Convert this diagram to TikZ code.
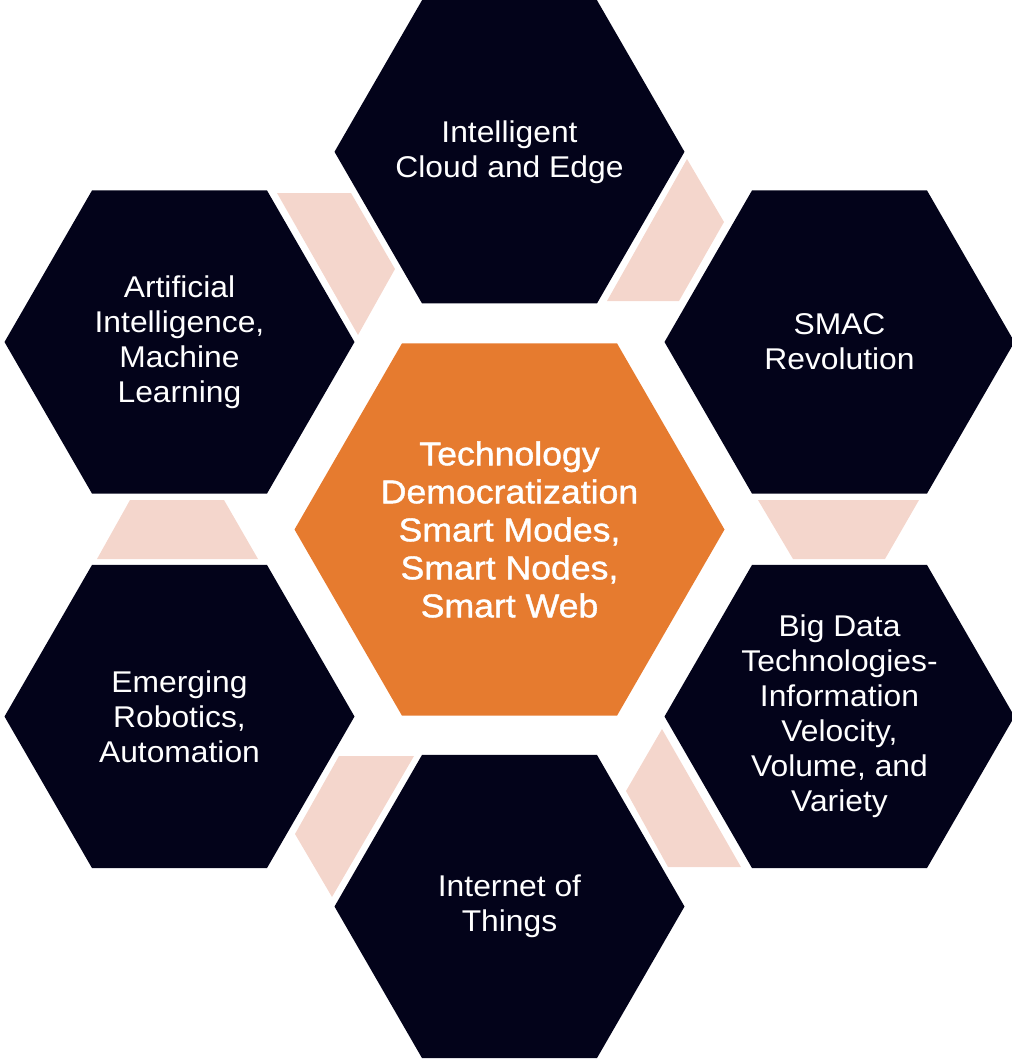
\documentclass[tikz,border=0pt]{standalone}
\usepackage{fontspec}
\setmainfont[FakeStretch=1.06]{Liberation Sans}
\newfontfamily\centerfont[FakeBold=1.2,FakeStretch=1.08]{Liberation Sans}
\definecolor{hexdark}{HTML}{03031A}
\definecolor{hexorange}{HTML}{E67B2F}
\definecolor{linkpink}{HTML}{F4D6CC}
\tikzset{
  outertext/.style={text=white, align=center, inner sep=0pt, font=\fontsize{30}{35}\selectfont},
  centertext/.style={text=white, align=center, inner sep=0pt, font=\centerfont\fontsize{33}{38}\selectfont},
  link/.style={fill=linkpink, draw=none}
}
\newcommand{\hexat}[4]{% cx, cy, R, colour
  \fill[#4, shift={(#1,#2)}] (0:#3) -- (60:#3) -- (120:#3) -- (180:#3) -- (240:#3) -- (300:#3) -- cycle;}
\begin{document}
\begin{tikzpicture}[x=1pt,y=-1pt]
\useasboundingbox (0,0) rectangle (1012,1061);
% pink links
\fill[link] (687,159) -- (724,222) -- (679,301) -- (607,301) -- cycle;
\fill[link] (277,193) -- (351,193) -- (395,269) -- (358,335) -- cycle;
\fill[link] (758,500) -- (919,500) -- (885,559) -- (793,559) -- cycle;
\fill[link] (130,500) -- (224,500) -- (258,559) -- (97,559) -- cycle;
\fill[link] (662,729) -- (626,791) -- (668,867) -- (741,867) -- cycle;
\fill[link] (339,756) -- (414,756) -- (332,897) -- (295,834) -- cycle;
% hexagons
\hexat{509.5}{529.5}{215}{hexorange}
\hexat{509.5}{151.8}{175}{hexdark}
\hexat{839.5}{342}{175}{hexdark}
\hexat{839.5}{716.5}{175}{hexdark}
\hexat{509.5}{906.5}{175}{hexdark}
\hexat{179.5}{716.5}{175}{hexdark}
\hexat{179.5}{342}{175}{hexdark}
% texts
\node[centertext] (center) at (509.5,529.5) {Technology\\Democratization\\Smart Modes,\\Smart Nodes,\\Smart Web};
\node[outertext] (cloud) at (509.5,151.8) {Intelligent\\Cloud and Edge};
\node[outertext] (smac) at (839.5,342) {SMAC\\Revolution};
\node[outertext] (bigdata) at (839.5,716.5) {Big Data\\Technologies-\\Information\\Velocity,\\Volume, and\\Variety};
\node[outertext] (iot) at (509.5,906.5) {Internet of\\Things};
\node[outertext] (robot) at (179.5,716.5) {Emerging\\Robotics,\\Automation};
\node[outertext] (ai) at (179.5,342) {Artificial\\Intelligence,\\Machine\\Learning};
\end{tikzpicture}
\end{document}
